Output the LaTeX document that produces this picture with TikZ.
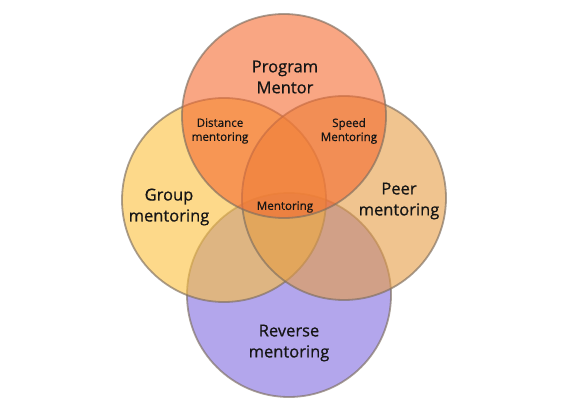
\documentclass[tikz,border=0pt]{standalone}
\usepackage{fontspec}
\setmainfont{Open Sans}
\newfontfamily\vennfont{Open Sans}[FakeBold=0.7]
\definecolor{toporange}{HTML}{F56A30}
\definecolor{leftyellow}{HTML}{FCC03C}
\definecolor{rightsand}{HTML}{E69D44}
\definecolor{bottomviolet}{HTML}{806BDF}
\definecolor{vennline}{HTML}{7D6E60}
\definecolor{labeltext}{HTML}{151515}
\begin{document}
\begin{tikzpicture}[x=1pt, y=-1pt,
    venn/.style={circle, draw=vennline, line width=1.8pt, draw opacity=0.65,
      fill opacity=0.6, minimum size=\diam, inner sep=0pt},
    biglabel/.style={align=center, text=labeltext,
      font=\vennfont\fontsize{16.5}{21}\selectfont},
    smalllabel/.style={align=center, text=labeltext,
      font=\vennfont\fontsize{11.6}{14}\selectfont}]
    % Taille du dessin et diametre des cercles
    \def\diam{204pt}
    \useasboundingbox (0,0) rectangle (570,420);
    % Cercles (le cercle du bas en premier, celui du haut en dernier)
    \node[venn, fill=bottomviolet] (reverse) at (289,295) {};
    \node[venn, fill=leftyellow] (group) at (224,200) {};
    \node[venn, fill=rightsand] (peer) at (344,198) {};
    \node[venn, fill=toporange] (program) at (284,116) {};
    % Textes des cercles
    \node[biglabel] (programtxt) at (285,77) {Program\\Mentor};
    \node[biglabel] (grouptxt) at (169,207) {Group\\mentoring};
    \node[biglabel] (peertxt) at (399,201) {Peer\\mentoring};
    \node[biglabel] (reversetxt) at (289,343) {Reverse\\mentoring};
    % Textes des intersections
    \node[smalllabel] (distancetxt) at (220,131) {Distance\\mentoring};
    \node[smalllabel] (speedtxt) at (349,131) {Speed\\Mentoring};
    \node[smalllabel] (mentoringtxt) at (285,207) {Mentoring};
\end{tikzpicture}
\end{document}
